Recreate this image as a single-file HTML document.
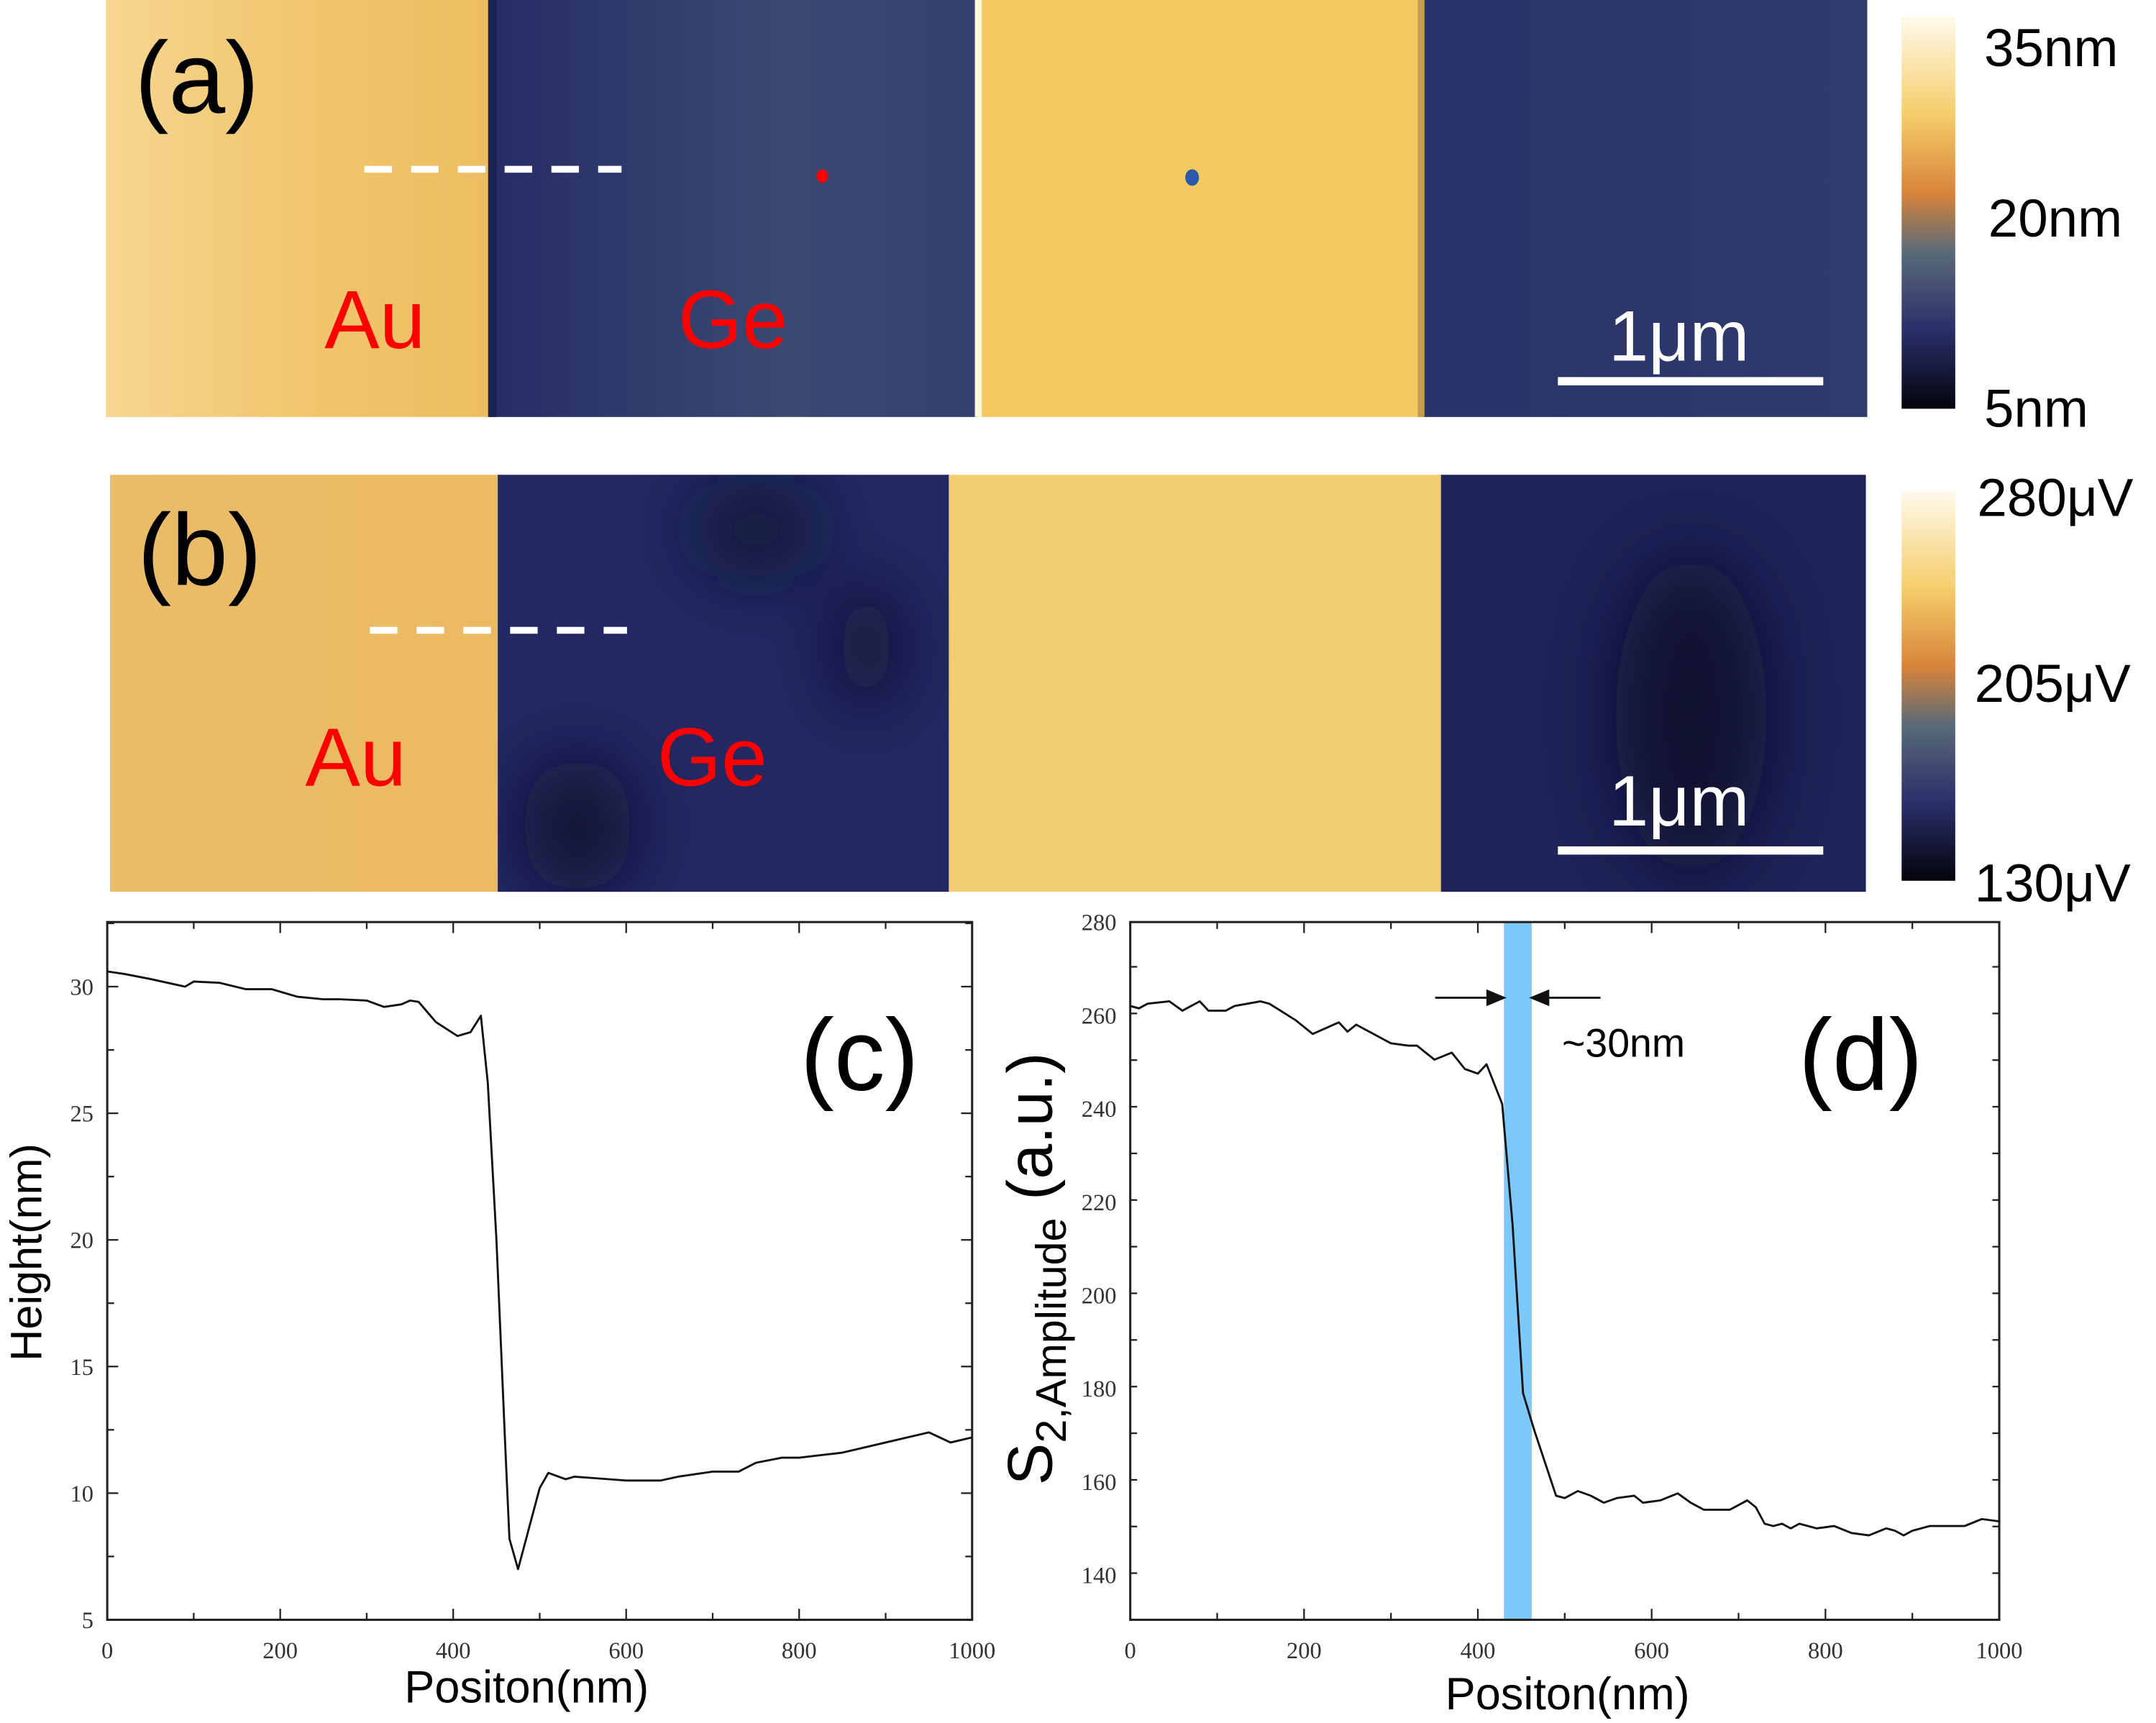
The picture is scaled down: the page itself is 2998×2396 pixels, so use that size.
<!DOCTYPE html>
<html><head><meta charset="utf-8"><style>
html,body{margin:0;padding:0;background:#fff;}
svg{display:block;}
text{font-family:"Liberation Sans",sans-serif;}
.tick{font-family:"Liberation Serif",serif;font-size:17px;fill:#333;}
</style></head><body>
<svg id="fig" width="2998" height="2396" viewBox="0 0 1568 1252" preserveAspectRatio="none" xmlns="http://www.w3.org/2000/svg">
<defs>
<linearGradient id="cbar" x1="0" y1="0" x2="0" y2="1">
<stop offset="0" stop-color="#fffaec"/><stop offset="0.25" stop-color="#f5cd6a"/><stop offset="0.45" stop-color="#d8843a"/><stop offset="0.6" stop-color="#5a6a78"/><stop offset="0.8" stop-color="#2a2f6a"/><stop offset="1" stop-color="#04040c"/>
</linearGradient>
<linearGradient id="auA1" x1="0" x2="1"><stop offset="0" stop-color="#f6d690"/><stop offset="0.5" stop-color="#f1c66e"/><stop offset="1" stop-color="#edbd60"/></linearGradient>
<linearGradient id="geA" x1="0" x2="1"><stop offset="0" stop-color="#262c66"/><stop offset="0.6" stop-color="#3a4a72"/><stop offset="1" stop-color="#334070"/></linearGradient>
<linearGradient id="geA2" x1="0" x2="1"><stop offset="0" stop-color="#2a336a"/><stop offset="1" stop-color="#303a6c"/></linearGradient>
<linearGradient id="auB1" x1="0" x2="1"><stop offset="0" stop-color="#eabd6a"/><stop offset="1" stop-color="#ecba60"/></linearGradient>
<filter id="blur" x="-50%" y="-50%" width="200%" height="200%"><feGaussianBlur stdDeviation="25"/></filter>
<clipPath id="clipb"><rect x="362" y="345" width="329" height="303"/><rect x="1048" y="345" width="309" height="303"/></clipPath>
</defs>

<g>
<rect x="77" y="0" width="281" height="303" fill="url(#auA1)"/>
<rect x="357" y="0" width="356" height="303" fill="url(#geA)"/>
<rect x="355" y="0" width="6" height="303" fill="#1c2250"/>
<rect x="712" y="0" width="324" height="303" fill="#f4c962"/>
<rect x="709" y="0" width="5" height="303" fill="#fff6dc"/>
<rect x="1035" y="0" width="323" height="303" fill="url(#geA2)"/>
<rect x="1031" y="0" width="5" height="303" fill="#c89a52"/>
<line x1="265" y1="123" x2="452" y2="123" stroke="#fff" stroke-width="5" stroke-dasharray="20,14"/>
<ellipse cx="598" cy="128" rx="4" ry="5" fill="#f00"/>
<ellipse cx="867" cy="129" rx="5" ry="6" fill="#2a5aa8"/>
<text x="98" y="82" font-size="74">(a)</text>
<text x="236" y="253" font-size="60" fill="#f00">Au</text>
<text x="493" y="253" font-size="60" fill="#f00">Ge</text>
<text x="1170" y="262" font-size="52" fill="#fff">1μm</text>
<rect x="1133" y="274" width="193" height="6" fill="#fff"/>
<rect x="1383" y="12" width="39" height="285" fill="url(#cbar)"/>
<text x="1443" y="48" font-size="39">35nm</text>
<text x="1446" y="172" font-size="39">20nm</text>
<text x="1443" y="310" font-size="39">5nm</text>
</g>

<g>
<rect x="80" y="345" width="283" height="303" fill="url(#auB1)"/>
<rect x="362" y="345" width="329" height="303" fill="#232862"/>
<rect x="690" y="345" width="359" height="303" fill="#f3cd72"/>
<rect x="1048" y="345" width="309" height="303" fill="#1e2358"/>
<g clip-path="url(#clipb)">
<g filter="url(#blur)" opacity="0.8">
<ellipse cx="550" cy="385" rx="45" ry="35" fill="#10132e"/>
<ellipse cx="630" cy="470" rx="22" ry="45" fill="#0a0c22"/>
<ellipse cx="420" cy="600" rx="40" ry="50" fill="#0c0f28"/>
<ellipse cx="1230" cy="520" rx="55" ry="115" fill="#0e1028"/>
</g>
</g>
<line x1="269" y1="458" x2="456" y2="458" stroke="#fff" stroke-width="5" stroke-dasharray="20,14"/>
<text x="100" y="425" font-size="74">(b)</text>
<text x="222" y="571" font-size="60" fill="#f00">Au</text>
<text x="478" y="571" font-size="60" fill="#f00">Ge</text>
<text x="1170" y="600" font-size="52" fill="#fff">1μm</text>
<rect x="1133" y="615" width="193" height="6" fill="#fff"/>
<rect x="1383" y="357" width="39" height="283" fill="url(#cbar)"/>
<text x="1438" y="375" font-size="39">280μV</text>
<text x="1436" y="510" font-size="39">205μV</text>
<text x="1436" y="655" font-size="39">130μV</text>
</g>

<g id="plotc"></g>
<g id="plotd"></g>

<text x="383" y="1237" font-size="33" text-anchor="middle">Positon(nm)</text>
<text transform="translate(30,910) rotate(-90)" font-size="32" text-anchor="middle">Height(nm)</text>
<text x="582" y="792" font-size="74">(c)</text>
<text x="1140" y="1242" font-size="33" text-anchor="middle">Positon(nm)</text>
<text transform="translate(765,922) rotate(-90)" font-size="46" text-anchor="middle">S<tspan font-size="31" dy="10">2,Amplitude</tspan><tspan dy="-10"> (a.u.)</tspan></text>
<text x="1308" y="792" font-size="74">(d)</text>
<text x="1136" y="768" font-size="29">~30nm</text>
</svg>
<script>
const cX = [0,20,50,90,100,130,160,190,220,250,270,300,320,340,350,360,380,405,420,432,440,450,460,465,475,500,510,530,540,580,600,640,660,700,730,750,780,800,850,900,950,975,1000];
const cY = [30.6,30.5,30.3,30.0,30.2,30.15,29.9,29.9,29.6,29.5,29.5,29.45,29.2,29.3,29.45,29.4,28.6,28.05,28.2,28.85,26.2,20,12,8.2,7.0,10.2,10.8,10.55,10.65,10.55,10.5,10.5,10.65,10.85,10.85,11.2,11.4,11.4,11.6,12.0,12.4,12.0,12.2];
const dX = [0,10,20,45,60,80,90,110,120,150,160,190,210,240,250,260,280,290,300,320,330,350,370,385,400,410,428,440,445,452,465,490,500,515,530,545,560,580,590,610,630,645,660,690,710,720,730,740,750,760,770,790,810,830,850,870,880,890,900,920,960,980,1000];
const dY = [262,261.5,262.5,263,261,263,261,261,262,263,262.5,259,256,258.5,256.5,258,256,255,254,253.5,253.5,250.5,252,248.5,247.5,249.5,241,215,200,179,171,157,156.5,158,157,155.5,156.5,157,155.5,156,157.5,155.5,154,154,156,154.5,151,150.5,151,150,151,150,150.5,149,148.5,150,149.5,148.5,149.5,150.5,150.5,152,151.5];
const xTicks = [0,200,400,600,800,1000];
const cYTicks = [5,10,15,20,25,30];
const dYTicks = [140,160,180,200,220,240,260,280];
const bandRange = [430,462];

const NS='http://www.w3.org/2000/svg';
function mk(tag,attrs,parent){const e=document.createElementNS(NS,tag);for(const k in attrs)e.setAttribute(k,attrs[k]);parent.appendChild(e);return e;}

function drawPlot(g,box,xr,yr,xs,ys,yticks,yminor,band,name){
  const sx=v=>box.l+(v-xr[0])/(xr[1]-xr[0])*(box.r-box.l);
  const sy=v=>box.b-(v-yr[0])/(yr[1]-yr[0])*(box.b-box.t);
  if(band){
    const br=mk('rect',{x:sx(band[0]),y:box.t,width:sx(band[1])-sx(band[0]),height:box.b-box.t,fill:'#7cc8f8'},g);
    
    
  }
  const fr=mk('rect',{x:box.l,y:box.t,width:box.r-box.l,height:box.b-box.t,fill:'none',stroke:'#222','stroke-width':1.6},g);
  
  
  for(let v=xr[0];v<=xr[1];v+=100){
    const len=(v%200===0)?8:5;
    mk('line',{x1:sx(v),x2:sx(v),y1:box.b,y2:box.b-len,stroke:'#222','stroke-width':1.2},g);
    mk('line',{x1:sx(v),x2:sx(v),y1:box.t,y2:box.t+len,stroke:'#222','stroke-width':1.2},g);
  }
  xticks(g,sx,box,name);
  for(let v=yr[0];v<=yr[1]+1e-9;v+=yminor){
    const major=yticks.some(t=>Math.abs(t-v)<1e-6);
    const len=major?8:5;
    mk('line',{x1:box.l,x2:box.l+len,y1:sy(v),y2:sy(v),stroke:'#222','stroke-width':1.2},g);
    mk('line',{x1:box.r,x2:box.r-len,y1:sy(v),y2:sy(v),stroke:'#222','stroke-width':1.2},g);
  }
  yticks.forEach(t=>{
    const tx=mk('text',{x:box.l-10,y:sy(t)+6,'text-anchor':'end',class:'tick'},g);
    tx.textContent=t;
    
    
  });
  let d='';
  xs.forEach((x,i)=>{d+=(i?'L':'M')+sx(x).toFixed(2)+','+sy(ys[i]).toFixed(2);});
  const p=mk('path',{d:d,fill:'none',stroke:'#111','stroke-width':1.5,'stroke-linejoin':'round'},g);
  
  
  return {sx,sy};
}
function xticks(g,sx,box,name){
  xTicks.forEach(t=>{
    const tx=mk('text',{x:sx(t),y:box.b+28,'text-anchor':'middle',class:'tick'},g);
    tx.textContent=t;
    
    
  });
}
drawPlot(document.getElementById('plotc'),{l:78,r:707,t:670,b:1177},[0,1000],[5,32.55],cX,cY,cYTicks,2.5,null,'plot-c');
const sd=drawPlot(document.getElementById('plotd'),{l:822,r:1454,t:670,b:1177},[0,1000],[130.4,280],dX,dY,dYTicks,10,bandRange,'plot-d');
const gd=document.getElementById('plotd');
const ay=725;
const a1=mk('path',{d:`M${sd.sx(bandRange[0])-50},${ay}H${sd.sx(bandRange[0])}M${sd.sx(bandRange[0])-12},${ay-5}L${sd.sx(bandRange[0])},${ay}L${sd.sx(bandRange[0])-12},${ay+5}Z`,stroke:'#111','stroke-width':1.5,fill:'#111'},gd);


const a2=mk('path',{d:`M${sd.sx(bandRange[1])+50},${ay}H${sd.sx(bandRange[1])}M${sd.sx(bandRange[1])+12},${ay-5}L${sd.sx(bandRange[1])},${ay}L${sd.sx(bandRange[1])+12},${ay+5}Z`,stroke:'#111','stroke-width':1.5,fill:'#111'},gd);


</script>
</body></html>
